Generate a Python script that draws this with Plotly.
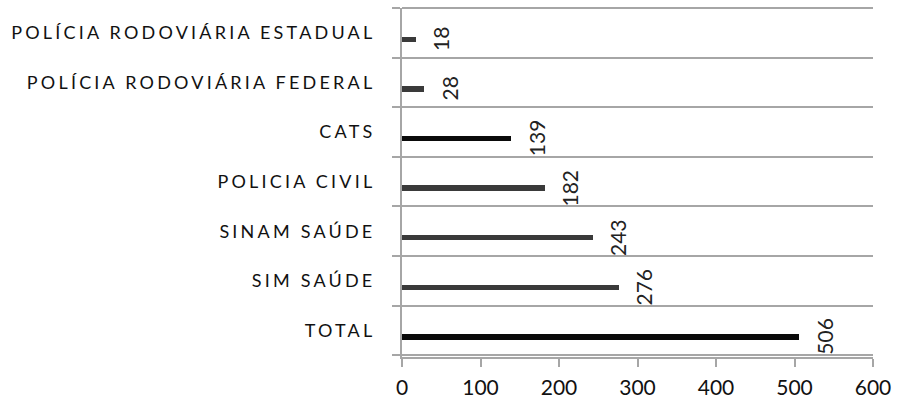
import plotly.graph_objects as go

categories = [
    "TOTAL",
    "SIM SAÚDE",
    "SINAM SAÚDE",
    "POLICIA CIVIL",
    "CATS",
    "POLÍCIA RODOVIÁRIA FEDERAL",
    "POLÍCIA RODOVIÁRIA ESTADUAL",
]
values = [506, 276, 243, 182, 139, 28, 18]
bar_colors = ["#0a0a0a", "#3a3a3a", "#3a3a3a", "#3a3a3a", "#0a0a0a", "#3a3a3a", "#3a3a3a"]
x_ticks = [0, 100, 200, 300, 400, 500, 600]

FONT = "Lato, 'Open Sans', sans-serif"

fig = go.Figure()
fig.add_trace(go.Bar(
    x=values,
    y=categories,
    orientation="h",
    marker=dict(color=bar_colors, line=dict(width=0)),
    width=0.11,
    offset=-0.185,
    hoverinfo="skip",
))

for v, c in zip(values, categories):
    fig.add_annotation(
        x=v, y=c, xref="x", yref="y",
        text=str(v), showarrow=False,
        textangle=-90,
        xanchor="center", yanchor="middle",
        xshift=25, yshift=-6,
        font=dict(family=FONT, size=21, color="#222222"),
    )

grid_color = "#a6a6a6"
fig.update_layout(
    width=909, height=402,
    margin=dict(l=402, r=36, t=8, b=45, pad=0),
    paper_bgcolor="white",
    plot_bgcolor="white",
    showlegend=False,
    bargap=0,
)
fig.update_xaxes(
    range=[0, 600],
    tickvals=x_ticks,
    ticktext=[str(t) for t in x_ticks],
    showgrid=False,
    zeroline=False,
    showline=True, linecolor=grid_color, linewidth=2,
    ticks="outside", ticklen=8, tickwidth=2, tickcolor=grid_color,
    ticklabelstandoff=3,
    tickfont=dict(family=FONT, size=21, color="#111111"),
    automargin=False,
    fixedrange=True,
)
fig.update_yaxes(
    type="category",
    categoryorder="array",
    categoryarray=categories,
    tickson="boundaries",
    showgrid=True, gridcolor=grid_color, gridwidth=2,
    zeroline=False,
    showline=True, linecolor=grid_color, linewidth=2,
    ticks="outside", ticklen=8, tickwidth=2, tickcolor=grid_color,
    ticklabelstandoff=21,
    tickfont=dict(family=FONT, size=18, color="#111111"),
    automargin=False,
    fixedrange=True,
)
fig.add_shape(type="line", xref="paper", yref="paper", x0=0, x1=1, y0=1, y1=1,
              line=dict(color=grid_color, width=2))

post = """
var s = document.createElement('style');
s.textContent = '.ytick text { letter-spacing: 3.2px; }';
document.head.appendChild(s);
"""
fig.write_html("out.html", post_script=post)
